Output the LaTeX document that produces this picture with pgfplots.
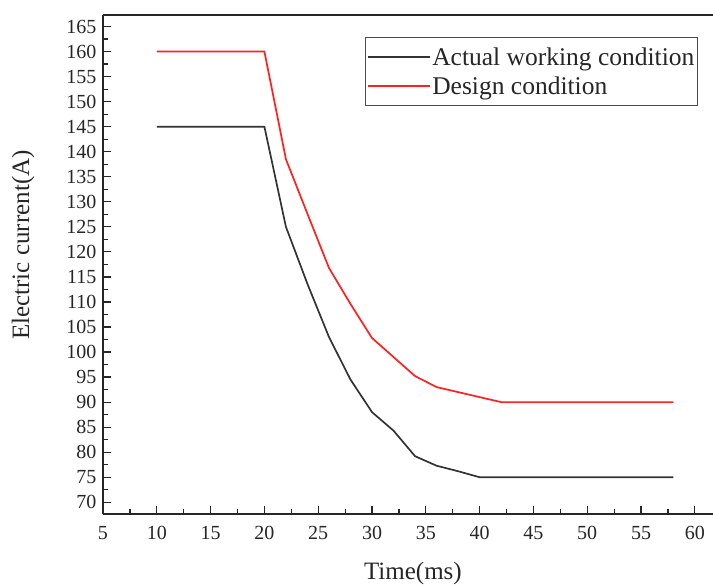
\documentclass[border=0pt]{standalone}
\usepackage{pgfplots}
\pgfplotsset{compat=1.18}
\usepackage{fontspec}
\setmainfont{Liberation Serif}
\definecolor{blk}{HTML}{333333}
\definecolor{rd}{HTML}{FF2020}
\begin{document}
\begin{tikzpicture}
\useasboundingbox (0pt,0pt) rectangle (713pt,585pt);
\begin{axis}[
  at={(103pt,71pt)}, anchor=south west,
  scale only axis,
  width=610pt, height=499pt,
  xmin=5, xmax=61.69, ymin=67.66, ymax=167.3,
  axis x line*=box, axis y line*=left,
  axis line style={line width=1.4pt, black!85},
  xtick={5,10,...,60}, ytick={70,75,...,165},
  minor x tick num=1, minor y tick num=1,
  tick align=inside,
  major tick length=8pt, minor tick length=5pt,
  every tick/.style={line width=1.2pt, black!85},
  xtick pos=bottom, ytick pos=left,
  /pgf/number format/assume math mode=true,
  ticklabel style={font=\fontsize{20}{24}\selectfont, text=black!85},
  xticklabel style={yshift=-9pt},
  yticklabel style={xshift=-3pt},
  xlabel={Time(ms)}, ylabel={Electric current(A)},
  xlabel style={font=\fontsize{25}{30}\selectfont, text=black!85, at={(axis description cs:0.508,-0.12)}, anchor=center},
  ylabel style={font=\fontsize{25}{30}\selectfont, text=black!85, at={(axis description cs:-0.131,0.539)}, anchor=center, rotate=0},
  legend style={at={(rel axis cs:0.975,0.956)}, anchor=north east,
    font=\fontsize{25.5}{30}\selectfont, draw=black!70, line width=0.8pt,
    inner xsep=1pt, inner ysep=9pt, row sep=8pt, text=black!85,
    nodes={inner xsep=2pt, inner ysep=1pt}},
  legend cell align=left,
  legend image code/.code={\draw[#1, line width=1.6pt] (0pt,0pt) -- (62pt,0pt);},
]
\addplot[blk, line width=1.7pt] coordinates {
(10,145) (20,145) (22,125) (24,113.6) (26,103) (28,94.5) (30,88) (32,84.3) (34,79.2) (36,77.3) (38,76.2) (40,75) (58,75)};
\addlegendentry{Actual working condition}
\addplot[rd, line width=1.7pt] coordinates {
(10,160) (20,160) (22,138.5) (24,127.6) (26,116.8) (28,109.6) (30,102.8) (32,99) (34,95.2) (36,93) (38,92) (40,91) (42,90) (58,90)};
\addlegendentry{Design condition}
\end{axis}
\end{tikzpicture}
\end{document}
